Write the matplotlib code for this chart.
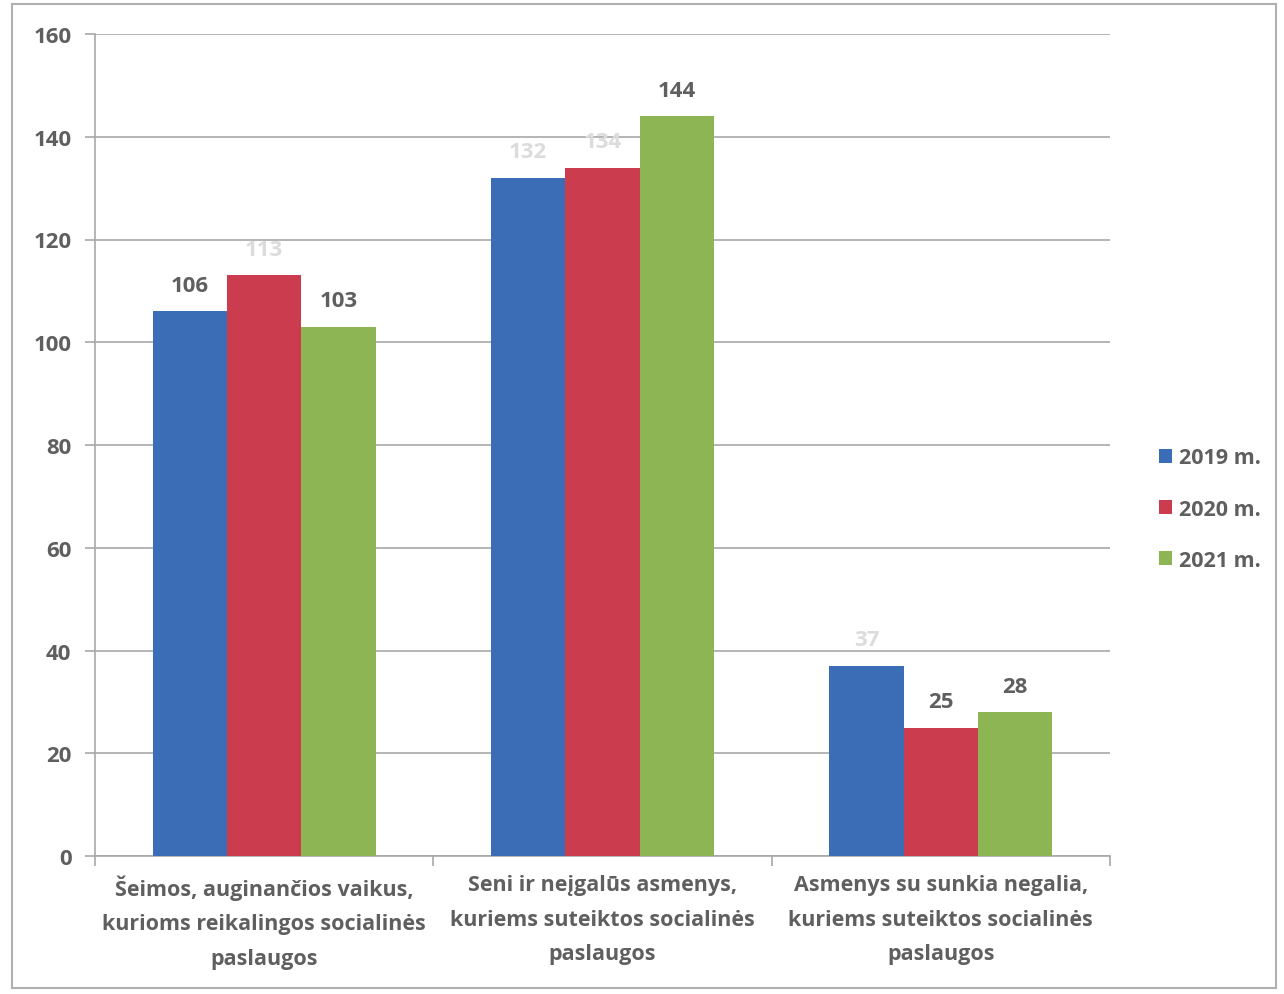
import matplotlib
matplotlib.use("Agg")
import matplotlib.pyplot as plt
import numpy as np
from matplotlib.patches import Rectangle

plt.rcParams['font.family'] = ['Open Sans', 'DejaVu Sans']

categories = ["Šeimos, auginančios vaikus,\nkurioms reikalingos socialinės\npaslaugos",
              "Seni ir neįgalūs asmenys,\nkuriems suteiktos socialinės\npaslaugos",
              "Asmenys su sunkia negalia,\nkuriems suteiktos socialinės\npaslaugos"]
series_names = ["2019 m.", "2020 m.", "2021 m."]
v2019 = [106, 132, 37]
v2020 = [113, 134, 25]
v2021 = [103, 144, 28]
yticks = [0, 20, 40, 60, 80, 100, 120, 140, 160]

colors = ["#3b6db6", "#cc3c4f", "#8db554"]
faded = {(1, 0), (0, 1), (1, 1), (0, 2)}  # (series, category) labels that look washed out

W, H = 1284, 995
fig = plt.figure(figsize=(W/100, H/100), dpi=100)
fig.patches.append(Rectangle((12/W, 6/H), (1276-12)/W, (990-6)/H, transform=fig.transFigure,
                             fill=False, edgecolor="#b0b0b0", linewidth=1.5))
ax = fig.add_axes([95/W, (995-857)/H, (1110-95)/W, (857-35)/H])

x = np.arange(len(categories))
bw = 0.22
text_col = "#5f5f5f"
for i, (vals, name) in enumerate(zip([v2019, v2020, v2021], series_names)):
    pos = x + (i - 1) * bw
    ax.bar(pos, vals, width=bw, color=colors[i], label=name, zorder=3)
    for j, (p, v) in enumerate(zip(pos, vals)):
        c = "#dcdcdc" if (i, j) in faded else text_col
        ax.text(p, v + 3, str(v), ha="center", va="bottom", fontsize=16, fontweight="bold",
                color=c, zorder=4)

ax.set_xlim(-0.5, 2.5)
ax.set_ylim(0, 160)
ax.set_yticks(yticks)
ax.set_yticklabels([str(t) for t in yticks], fontsize=16, fontweight="bold", color=text_col)
ax.yaxis.grid(True, color="#a8a8a8", linewidth=1.2, zorder=0)
ax.set_xticks([-0.5, 0.5, 1.5, 2.5])
ax.set_xticklabels([])
ax.set_xticks(x, minor=True)
ax.set_xticklabels(categories, minor=True, fontsize=15.5, fontweight="bold", color=text_col,
                   linespacing=1.85)
ax.tick_params(axis="x", which="minor", length=0, pad=13)
ax.tick_params(axis="x", which="major", length=7, color="#a8a8a8", width=1.2)
ax.tick_params(axis="y", length=7, color="#a8a8a8", width=1.2, pad=10)
for s in ["top", "right"]:
    ax.spines[s].set_visible(False)
for s in ["left", "bottom"]:
    ax.spines[s].set_color("#a8a8a8")
    ax.spines[s].set_linewidth(1.2)

ax.legend(loc="center left", frameon=False,
          handlelength=0.6, handleheight=0.6, handletextpad=0.3,
          labelspacing=1.4, labelcolor=text_col, prop={"weight": "bold", "size": 15.5})
leg = ax.get_legend()
leg.set_bbox_to_anchor((1140/W, (995-510)/H), transform=fig.transFigure)

fig.savefig("out.png", dpi=100)
